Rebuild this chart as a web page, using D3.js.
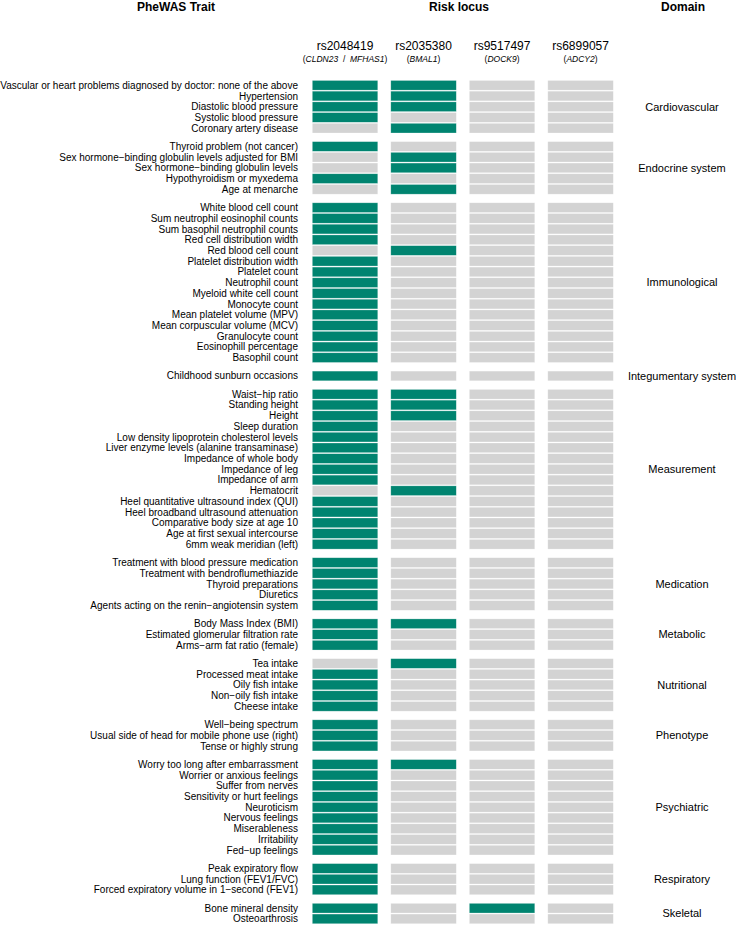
<!DOCTYPE html>
<html>
<head>
<meta charset="utf-8">
<script src="https://cdn.jsdelivr.net/npm/d3@7"></script>
<style>
  html, body { margin: 0; padding: 0; background: #fff; }
  svg { display: block; font-family: "Liberation Sans", Arial, Helvetica, sans-serif; }
</style>
</head>
<body>
<svg id="chart" width="736" height="926"></svg>
<script>
// ---------- DATA ----------
const domains = ["Cardiovascular", "Endocrine system", "Immunological", "Integumentary system",
  "Measurement", "Medication", "Metabolic", "Nutritional", "Phenotype", "Psychiatric",
  "Respiratory", "Skeletal"];

const traitsByDomain = [
  ["Vascular or heart problems diagnosed by doctor: none of the above", "Hypertension",
   "Diastolic blood pressure", "Systolic blood pressure", "Coronary artery disease"],
  ["Thyroid problem (not cancer)", "Sex hormone\u2212binding globulin levels adjusted for BMI",
   "Sex hormone\u2212binding globulin levels", "Hypothyroidism or myxedema", "Age at menarche"],
  ["White blood cell count", "Sum neutrophil eosinophil counts", "Sum basophil neutrophil counts",
   "Red cell distribution width", "Red blood cell count", "Platelet distribution width",
   "Platelet count", "Neutrophil count", "Myeloid white cell count", "Monocyte count",
   "Mean platelet volume (MPV)", "Mean corpuscular volume (MCV)", "Granulocyte count",
   "Eosinophill percentage", "Basophil count"],
  ["Childhood sunburn occasions"],
  ["Waist\u2212hip ratio", "Standing height", "Height", "Sleep duration",
   "Low density lipoprotein cholesterol levels", "Liver enzyme levels (alanine transaminase)",
   "Impedance of whole body", "Impedance of leg", "Impedance of arm", "Hematocrit",
   "Heel quantitative ultrasound index (QUI)", "Heel broadband ultrasound attenuation",
   "Comparative body size at age 10", "Age at first sexual intercourse", "6mm weak meridian (left)"],
  ["Treatment with blood pressure medication", "Treatment with bendroflumethiazide",
   "Thyroid preparations", "Diuretics", "Agents acting on the renin\u2212angiotensin system"],
  ["Body Mass Index (BMI)", "Estimated glomerular filtration rate", "Arms\u2212arm fat ratio (female)"],
  ["Tea intake", "Processed meat intake", "Oily fish intake", "Non\u2212oily fish intake", "Cheese intake"],
  ["Well\u2212being spectrum", "Usual side of head for mobile phone use (right)", "Tense or highly strung"],
  ["Worry too long after embarrassment", "Worrier or anxious feelings", "Suffer from nerves",
   "Sensitivity or hurt feelings", "Neuroticism", "Nervous feelings", "Miserableness",
   "Irritability", "Fed\u2212up feelings"],
  ["Peak expiratory flow", "Lung function (FEV1/FVC)", "Forced expiratory volume in 1\u2212second (FEV1)"],
  ["Bone mineral density", "Osteoarthrosis"]
];

const snps = ["rs2048419", "rs2035380", "rs9517497", "rs6899057"];
const genes = [["CLDN23", "MFHAS1"], ["BMAL1"], ["DOCK9"], ["ADCY2"]];

// association flags (1 = significant association) in trait order, one array per locus
const assocRs2048419 = [
  1,1,1,1,0,
  1,0,0,1,0,
  1,1,1,1,0,1,1,1,1,1,1,1,1,1,1,
  1,
  1,1,1,1,1,1,1,1,1,0,1,1,1,1,1,
  1,1,1,1,1,
  1,1,1,
  0,1,1,1,1,
  1,1,1,
  1,1,1,1,1,1,1,1,1,
  1,1,1,
  1,1];
const assocRs2035380 = [
  1,1,1,0,1,
  0,1,1,0,1,
  0,0,0,0,1,0,0,0,0,0,0,0,0,0,0,
  0,
  1,1,1,0,0,0,0,0,0,1,0,0,0,0,0,
  0,0,0,0,0,
  1,0,0,
  1,0,0,0,0,
  0,0,0,
  1,0,0,0,0,0,0,0,0,
  0,0,0,
  0,0];
const assocRs9517497 = [
  0,0,0,0,0,
  0,0,0,0,0,
  0,0,0,0,0,0,0,0,0,0,0,0,0,0,0,
  0,
  0,0,0,0,0,0,0,0,0,0,0,0,0,0,0,
  0,0,0,0,0,
  0,0,0,
  0,0,0,0,0,
  0,0,0,
  0,0,0,0,0,0,0,0,0,
  0,0,0,
  1,0];
const assocRs6899057 = [
  0,0,0,0,0,
  0,0,0,0,0,
  0,0,0,0,0,0,0,0,0,0,0,0,0,0,0,
  0,
  0,0,0,0,0,0,0,0,0,0,0,0,0,0,0,
  0,0,0,0,0,
  0,0,0,
  0,0,0,0,0,
  0,0,0,
  0,0,0,0,0,0,0,0,0,
  0,0,0,
  0,0];
const assocBySnp = [assocRs2048419, assocRs2035380, assocRs9517497, assocRs6899057];

// ---------- BUILD ----------
const GAP = 0.71; // extra spacing between domain groups, in row units
const rows = [];
traitsByDomain.forEach((traits, gi) => {
  traits.forEach(t => {
    rows.push({ trait: t, domain: domains[gi], gi, slot: rows.length + gi * GAP });
  });
});
const nSlots = rows[rows.length - 1].slot;

const svg = d3.select("#chart");
const y = d3.scaleLinear().domain([0, nSlots]).range([85.3, 918.9]);
const rowH = (y(1) - y(0));
const x = d3.scaleBand().domain(snps).range([312.3, 613.3]).paddingInner(0.166).paddingOuter(0);
const color = d3.scaleOrdinal().domain([0, 1]).range(["#d3d3d3", "#008470"]);

// headers
const hdr = svg.append("g").attr("font-weight", "bold").attr("font-size", 12).attr("text-anchor", "middle").attr("fill", "#000");
hdr.append("text").attr("x", 176).attr("y", 10.5).text("PheWAS Trait");
hdr.append("text").attr("x", 459).attr("y", 10.5).text("Risk locus");
hdr.append("text").attr("x", 683).attr("y", 10.5).text("Domain");

// SNP column labels
const colG = svg.append("g").attr("text-anchor", "middle");
snps.forEach((s, i) => {
  const cx = x(s) + x.bandwidth() / 2;
  colG.append("text").attr("x", cx).attr("y", 50).attr("font-size", 12).text(s);
  const t = colG.append("text").attr("x", cx).attr("y", 61.5).attr("font-size", 8.5)
    .attr("xml:space", "preserve").style("white-space", "pre");
  t.append("tspan").text("(");
  genes[i].forEach((g, k) => {
    if (k > 0) t.append("tspan").text("  /  ");
    t.append("tspan").attr("font-style", "italic").text(g);
  });
  t.append("tspan").text(")");
});

// cells
const cellH = rowH * 0.905;
const cells = [];
rows.forEach((r, ri) => snps.forEach((s, si) => cells.push({ r, s, v: assocBySnp[si][ri] })));
svg.append("g").selectAll("rect").data(cells).join("rect")
  .attr("x", d => x(d.s))
  .attr("y", d => y(d.r.slot) - cellH / 2)
  .attr("width", x.bandwidth())
  .attr("height", cellH)
  .attr("fill", d => color(d.v))
  .attr("stroke", "#ffffff").attr("stroke-opacity", 0.45).attr("stroke-width", 0.6);

// trait labels
svg.append("g").attr("text-anchor", "end").attr("font-size", 10).attr("fill", "#000")
  .selectAll("text").data(rows).join("text")
  .attr("x", 298).attr("y", d => y(d.slot)).attr("dy", "0.35em").text(d => d.trait);

// domain labels
const domG = domains.map((dname, gi) => {
  const rr = rows.filter(r => r.gi === gi);
  return { name: dname, mid: (rr[0].slot + rr[rr.length - 1].slot) / 2 };
});
svg.append("g").attr("text-anchor", "middle").attr("font-size", 11).attr("fill", "#000")
  .selectAll("text").data(domG).join("text")
  .attr("x", 682).attr("y", d => y(d.mid)).attr("dy", "0.35em").text(d => d.name);
</script>
</body>
</html>
